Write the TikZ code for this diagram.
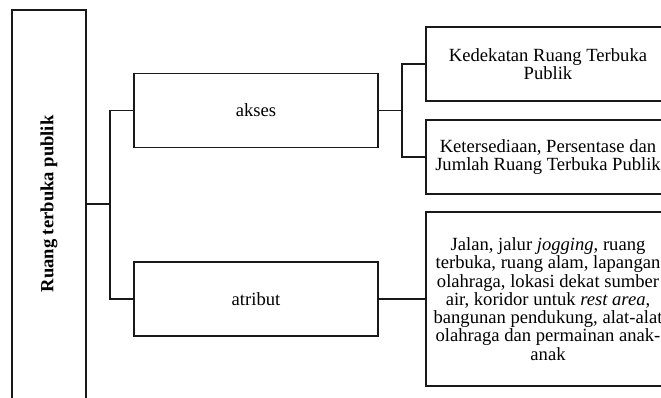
\documentclass[tikz,border=0pt]{standalone}
\usepackage{fontspec}
\setmainfont{Liberation Serif}
\begin{document}
\begin{tikzpicture}[x=1pt,y=1pt,
  box/.style={draw=black!90, line width=1.1pt, inner sep=0pt, align=center,
    font=\fontsize{18.6}{18.3}\selectfont, minimum width=244pt, minimum height=74pt},
  conn/.style={draw=black!90, line width=1.1pt}]
\useasboundingbox (0,0) rectangle (661,398);
\clip (0,0) rectangle (661,398);
\fill[white] (0,0) rectangle (661,398);
\node[draw=black!90, line width=1.1pt, minimum width=74pt, minimum height=400pt, inner sep=0pt] (root) at (49,188) {};
\node[rotate=90, font=\fontsize{18.6}{18.3}\selectfont\bfseries] (rootlabel) at (49,194) {Ruang terbuka publik};
\node[box] (akses) at (256,287.5) {akses};
\node[box] (atribut) at (256,99) {atribut};
\node[box] (k1) at (548,334) {Kedekatan Ruang Terbuka\\Publik};
\node[box] (k2) at (548,241) {Ketersediaan, Persentase dan\\Jumlah Ruang Terbuka Publik};
\node[box, minimum height=174pt] (k3) at (548,99) {Jalan, jalur \textit{jogging}, ruang\\terbuka, ruang alam, lapangan\\olahraga, lokasi dekat sumber\\air, koridor untuk \textit{rest area},\\bangunan pendukung, alat-alat\\olahraga dan permainan anak-\\anak};
\coordinate (j1) at (110,194);
\coordinate (j2) at (402,287.5);
\draw[conn] (rootlabel.center -| root.east) -- (j1);
\draw[conn] (akses.west) -| (j1) |- (atribut.west);
\draw[conn] (akses.east) -- (j2);
\draw[conn] (k1.west) -| (j2) |- (k2.west);
\draw[conn] (atribut.east) -- (k3.west);
\end{tikzpicture}
\end{document}
